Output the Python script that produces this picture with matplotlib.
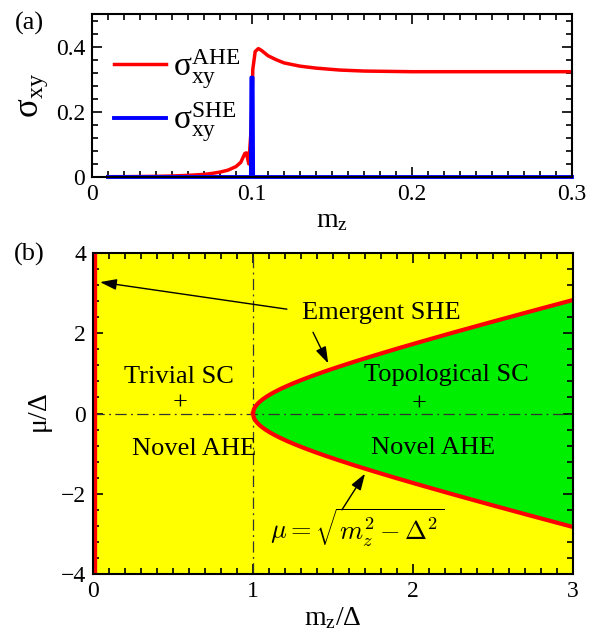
import numpy as np
import matplotlib
matplotlib.use("Agg")
import matplotlib.pyplot as plt
from matplotlib.ticker import MultipleLocator

plt.rcParams['font.family'] = ['Liberation Serif', 'DejaVu Serif']
plt.rcParams['mathtext.fontset'] = 'custom'
plt.rcParams['mathtext.rm'] = 'Liberation Serif'
plt.rcParams['mathtext.it'] = 'Liberation Serif:italic'
plt.rcParams['mathtext.bf'] = 'Liberation Serif:bold'

# ---- panel (a) data ----
mz_ahe = [0.01, 0.02, 0.03, 0.04, 0.05, 0.06, 0.07, 0.075, 0.08, 0.085, 0.09,
          0.093, 0.0955, 0.0965, 0.098, 0.0995, 0.1005, 0.102, 0.104, 0.106,
          0.108, 0.11, 0.115, 0.12, 0.13, 0.14, 0.155, 0.17, 0.2, 0.25, 0.3]
sig_ahe = [0.001, 0.001, 0.0015, 0.002, 0.003, 0.005, 0.008, 0.011, 0.015, 0.021, 0.032,
           0.045, 0.072, 0.074, 0.040, 0.15, 0.33, 0.385, 0.394, 0.388,
           0.380, 0.372, 0.360, 0.350, 0.340, 0.334, 0.328, 0.325, 0.323, 0.323, 0.323]
mz_she = [0.01, 0.0993, 0.0996, 0.1004, 0.1007, 0.3]
sig_she = [0.0, 0.0, 0.305, 0.305, 0.0, 0.0]

# ---- panel (b) data ----
mz_b = np.linspace(1.0, 3.0, 400)
mu_b = np.sqrt(mz_b**2 - 1.0)

fig = plt.figure(figsize=(5.95, 6.35), dpi=100)
W, H = 595, 635
def rect(l, t, r, b):
    return [l / W, 1 - b / H, (r - l) / W, (b - t) / H]

FS = 17

# ---------------- panel (a) ----------------
axa = fig.add_axes(rect(92, 14, 572, 177))
axa.plot(mz_ahe, sig_ahe, color='#ff0000', lw=2.5,
         label=r'$\mathregular{\sigma^{AHE}_{xy}}$', zorder=3)
axa.plot(mz_she, sig_she, color='#0000ff', lw=2.8,
         label=r'$\mathregular{\sigma^{SHE}_{xy}}$', zorder=4, clip_on=False)
axa.set_xlim(0, 0.3)
axa.set_ylim(0, 0.5)
axa.set_xticks([0, 0.1, 0.2, 0.3])
axa.set_xticklabels(['0', '0.1', '0.2', '0.3'])
axa.set_yticks([0, 0.2, 0.4])
axa.set_yticklabels(['0', '0.2', '0.4'])
axa.xaxis.set_minor_locator(MultipleLocator(0.01))
axa.yaxis.set_minor_locator(MultipleLocator(0.04))
axa.set_xlabel(r'$\mathregular{m_z}$', fontsize=FS + 3, labelpad=2)
axa.set_ylabel(r'$\mathregular{\sigma_{xy}}$', fontsize=FS + 8, labelpad=4)
leg = axa.legend(loc='upper left', bbox_to_anchor=(0.005, 0.92), frameon=False,
                 fontsize=FS + 7, handlelength=1.55, labelspacing=0.3,
                 handletextpad=0.2, borderaxespad=0.2)
axa.text(-0.131, 0.94, '(a)', transform=axa.transAxes, fontsize=FS + 2,
         ha='center', va='center')

# ---------------- panel (b) ----------------
axb = fig.add_axes(rect(93, 253, 573, 574))
axb.set_facecolor('#ffff00')
axb.fill_between(mz_b, -mu_b, mu_b, color='#00ee00', lw=0, zorder=1)
axb.plot(mz_b, mu_b, color='#ff0000', lw=3.0, zorder=3)
axb.plot(mz_b, -mu_b, color='#ff0000', lw=3.0, zorder=3)
axb.plot([0, 0], [-4, 4], color='#ff0000', lw=6, zorder=3)
axb.axvline(1.0, color='#333333', lw=0.9, ls=(0, (9, 3.5, 1.5, 3.5)), zorder=2)
axb.axhline(0.0, color='#333333', lw=0.9, ls=(0, (9, 3.5, 1.5, 3.5)), zorder=2)
axb.set_xlim(0, 3)
axb.set_ylim(-4, 4)
axb.set_xticks([0, 1, 2, 3])
axb.set_yticks([-4, -2, 0, 2, 4])
axb.set_yticklabels(['\u22124', '\u22122', '0', '2', '4'])
axb.xaxis.set_minor_locator(MultipleLocator(0.1))
axb.yaxis.set_minor_locator(MultipleLocator(0.4))
axb.set_xlabel(r'$\mathregular{m_z/\Delta}$', fontsize=FS + 3, labelpad=2)
axb.set_ylabel(r'$\mathregular{\mu/\Delta}$', fontsize=FS + 3, labelpad=4)
axb.text(-0.133, 0.994, '(b)', transform=axb.transAxes, fontsize=FS + 2,
         ha='center', va='center')

tfs = FS + 2
axb.text(0.54, 0.92, 'Trivial SC', fontsize=tfs, ha='center', va='center', zorder=5)
axb.text(0.63, -0.88, 'Novel AHE', fontsize=tfs, ha='center', va='center', zorder=5)
axb.text(2.21, 0.95, 'Topological SC', fontsize=tfs, ha='center', va='center', zorder=5)
axb.text(2.125, -0.86, 'Novel AHE', fontsize=tfs, ha='center', va='center', zorder=5)
axb.text(1.8, 2.5, 'Emergent SHE', fontsize=tfs, ha='center', va='center', zorder=5)
axb.text(0.544, 0.24, '+', fontsize=tfs, ha='center', va='center', zorder=5)
axb.text(2.04, 0.22, '+', fontsize=tfs, ha='center', va='center', zorder=5)
axb.text(1.65, -2.85, r'$\mu=\sqrt{m_z^2-\Delta^2}$', fontsize=tfs,
         ha='center', va='center', math_fontfamily='cm', zorder=5)

ap = dict(arrowstyle='-|>,head_length=1.0,head_width=0.33', color='black',
          lw=1.0, shrinkA=0, shrinkB=0)
axb.annotate('', xy=(0.044, 3.275), xytext=(1.212, 2.6), arrowprops=ap, zorder=6)
axb.annotate('', xy=(1.47, 1.25), xytext=(1.375, 2.025), arrowprops=ap, zorder=6)
axb.annotate('', xy=(1.7, -1.5), xytext=(1.556, -2.4), arrowprops=ap, zorder=6)

for ax in (axa, axb):
    ax.tick_params(which='both', direction='in', top=True, right=True,
                   labelsize=FS, width=1.2)
    ax.tick_params(which='major', length=7, pad=5)
    ax.tick_params(which='minor', length=4)
    for s in ax.spines.values():
        s.set_linewidth(1.5)
        s.set_zorder(7)

fig.savefig('out.png', dpi=100)
